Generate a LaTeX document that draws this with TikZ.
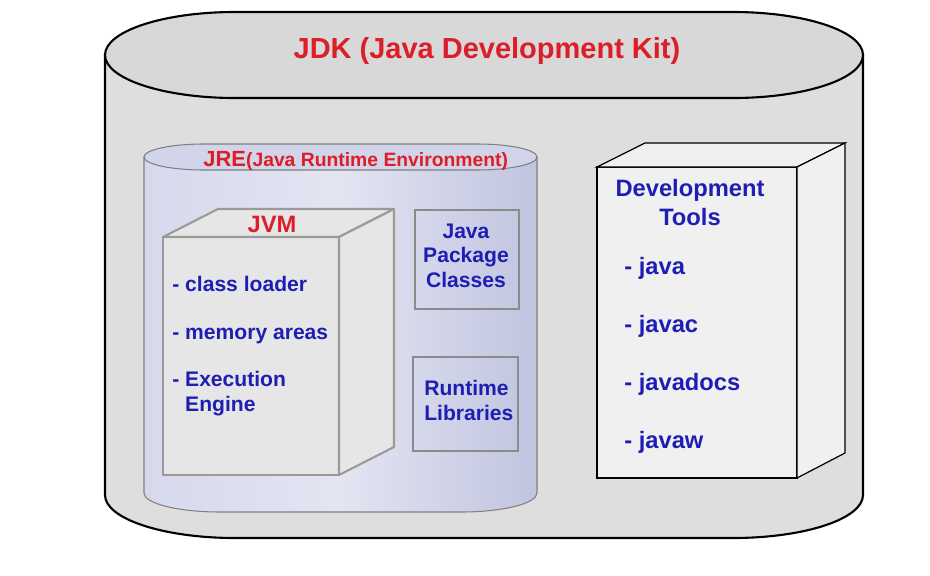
\documentclass[tikz,border=0pt]{standalone}
\usepackage{fontspec}
\setmainfont{Liberation Sans}
\usepackage{xcolor}
\usepackage{tikz}
\usetikzlibrary{calc}
\definecolor{jdkred}{HTML}{DC1E28}
\definecolor{jdkblue}{HTML}{1E1EB4}
\definecolor{jdkbody}{HTML}{DEDEDE}
\definecolor{jdktop}{HTML}{D8D8D8}
\definecolor{jreleft}{HTML}{D6D9EC}
\definecolor{jremid}{HTML}{E3E5F2}
\definecolor{jreright}{HTML}{C0C4DF}
\definecolor{jrelens}{HTML}{D2D5EA}
\definecolor{jvmline}{HTML}{9A9A9A}
\definecolor{jvmface}{HTML}{E6E6E6}
\definecolor{toolface}{HTML}{F0F0F0}
\tikzset{
	redtxt/.style={text=jdkred,inner sep=0pt},
	bluetxt/.style={text=jdkblue,inner sep=0pt,font=\bfseries\fontsize{12}{13.7}\selectfont},
	devtxt/.style={text=jdkblue,inner sep=0pt,font=\bfseries\fontsize{13.5}{16.5}\selectfont},
	jvmedge/.style={draw=jvmline,line width=1.2pt,fill=jvmface,line join=round},
	libbox/.style={draw=jvmline!90!black,line width=1.2pt},
	tooledge/.style={draw=black,line width=0.7pt,fill=toolface}
}
\begin{document}
\begin{tikzpicture}[x=0.02cm,y=-0.02cm]
		\useasboundingbox (0,0) rectangle (930,575);
		\fill[white] (0,0) rectangle (930,575);
		\filldraw[fill=jdkbody,draw=black,line width=1.2pt] (105,55) -- (105,495) arc[start angle=180,end angle=90,x radius=130,y radius=43] -- (733,538) arc[start angle=90,end angle=0,x radius=130,y radius=43] -- (863,55) -- cycle;
		\filldraw[fill=jdktop,draw=black,line width=1.2pt] (105,55) arc[start angle=180,end angle=270,x radius=130,y radius=43] -- (733,12) arc[start angle=270,end angle=450,x radius=130,y radius=43] -- (235,98) arc[start angle=90,end angle=180,x radius=130,y radius=43] -- cycle;
		\node[redtxt,font=\bfseries\fontsize{16.5}{20}\selectfont] (jdk) at (487,51) {JDK (Java Development Kit)};
		\draw[draw=gray,line width=0.6pt,left color=jreleft,right color=jreright,middle color=jremid] (144,157) -- (144,493) arc[start angle=180,end angle=90,x radius=76,y radius=19] -- (461,512) arc[start angle=90,end angle=0,x radius=76,y radius=19] -- (537,157) -- cycle;
		\filldraw[fill=jrelens,draw=gray,line width=0.6pt] (144,157) arc[start angle=180,end angle=270,x radius=60,y radius=13] -- (477,144) arc[start angle=270,end angle=450,x radius=60,y radius=13] -- (204,170) arc[start angle=90,end angle=180,x radius=60,y radius=13] -- cycle;
		\node[redtxt,anchor=base west] (jre) at (203,166) {\bfseries{\fontsize{12.5}{15}\selectfont JRE}{\fontsize{11}{13}\selectfont(Java Runtime Environment)}};
		\draw[jvmedge] (163,237) rectangle (339,475);
		\draw[jvmedge] (163,237) -- (218,209) -- (394,209) -- (339,237) -- cycle;
		\draw[jvmedge] (339,237) -- (394,209) -- (394,447) -- (339,475) -- cycle;
		\node[redtxt,anchor=base,font=\bfseries\fontsize{13.5}{16}\selectfont] (jvm) at (272,232) {JVM};
		\node[bluetxt,anchor=base west] (loader) at (172,291) {- class loader};
		\node[bluetxt,anchor=base west] (memory) at (172,339) {- memory areas};
		\node[bluetxt,anchor=base west,align=left] (engine) at (172,411) {- Execution\\\hphantom{- }Engine};
		\draw[libbox] (415,210) rectangle (519,309);
		\node[bluetxt,anchor=base,align=center] (classes) at (466,287) {Java\\Package\\Classes};
		\draw[libbox] (413,357) rectangle (518,451);
		\node[bluetxt,anchor=base west,align=left] (libs) at (424,420) {Runtime\\Libraries};
		\draw[tooledge] (597,167) rectangle (797,478);
		\draw[tooledge] (597,167) -- (645,143) -- (845,143) -- (797,167) -- cycle;
		\draw[tooledge] (797,167) -- (845,143) -- (845,453) -- (797,478) -- cycle;
		\node[devtxt,anchor=base,align=center] (devtools) at (690,225) {Development\\Tools};
		\foreach \tool [count=\i] in {java,javac,javadocs,javaw}
			\node[devtxt,anchor=base west] (tool\i) at (624,{274+58*(\i-1)}) {- \tool};
	\end{tikzpicture}
\end{document}
